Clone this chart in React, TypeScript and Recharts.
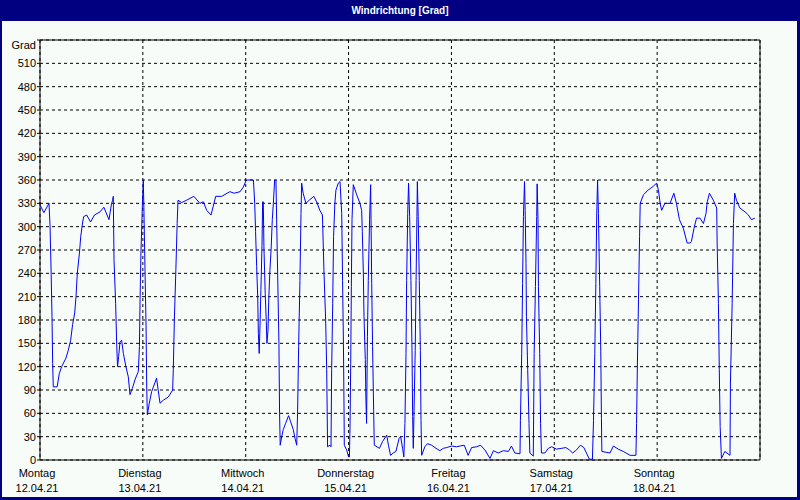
import { CartesianGrid, Line, LineChart, ReferenceLine, XAxis, YAxis } from 'recharts'

const navy = '#000080'
const blue = '#0000ff'
const font = '"Liberation Sans", Arial, sans-serif'

const dayNames = ['Montag', 'Dienstag', 'Mittwoch', 'Donnerstag', 'Freitag', 'Samstag', 'Sonntag']
const dayDates = ['12.04.21', '13.04.21', '14.04.21', '15.04.21', '16.04.21', '17.04.21', '18.04.21']
const hourTicks = [0, 24, 48, 72, 96, 120, 144, 168]
const gradTicks = [0, 30, 60, 90, 120, 150, 180, 210, 240, 270, 300, 330, 360, 390, 420, 450, 480, 510, 540]
const compassTicks = [0, 45, 90, 135, 180, 225, 270, 315, 360, 405, 450, 495, 540]
const compassNames = ['N', 'NE', 'E', 'SE', 'S', 'SW', 'W', 'NW', 'N', 'NE', 'E', 'SE', 'S']

// [hours since Monday 00:00, degrees]
const montag = [
  [0, 328], [0.9, 318], [2.1, 330], [2.35, 300], [2.6, 240], [2.8, 184], [2.95, 124], [3.1, 94], [4.0, 94],
  [4.5, 111], [5.05, 120], [6.05, 131], [6.6, 141], [7.15, 154], [7.6, 174], [8.1, 189], [8.4, 210], [8.7, 240],
  [9.2, 266], [9.5, 287], [9.95, 306], [10.2, 313], [10.9, 315], [11.8, 306], [12.7, 315], [14, 319], [14.9, 325],
  [16.1, 309], [16.7, 330], [16.95, 334], [17.1, 339], [17.27, 257], [17.65, 201], [17.9, 148], [18.1, 120],
  [18.35, 133], [18.67, 152], [19.05, 154], [19.45, 137], [20.05, 120], [20.6, 107], [21.0, 84], [21.55, 92],
  [22.15, 103], [22.95, 114], [23.2, 146], [23.35, 206], [23.55, 266], [23.9, 330],
]
const dienstag = [
  [24.1, 360], [24.25, 321], [24.5, 244], [24.75, 171], [24.9, 94], [25.05, 58], [25.5, 73], [26.05, 88],
  [27.2, 105], [28.0, 73], [28.8, 77], [29.95, 81], [30.95, 90], [31.1, 116], [31.35, 180], [31.7, 244],
  [32.0, 304], [32.2, 334], [33.05, 331], [34.2, 334], [35.9, 339], [37.3, 330], [38.1, 332], [38.9, 321],
  [39.9, 315], [41, 339], [42.4, 339], [44.3, 345], [45.3, 343], [46.7, 345], [47.45, 351],
]
const mittwoch = [
  [48.06, 359], [48.4, 360], [49.8, 360], [50.1, 330], [50.3, 294], [50.55, 249], [50.8, 210], [50.95, 163],
  [51.15, 137], [51.35, 176], [51.55, 219], [51.8, 276], [51.95, 332], [52.1, 332], [52.25, 274], [52.55, 214],
  [52.8, 178], [52.95, 150], [53.2, 167], [53.4, 210], [53.65, 244], [53.95, 274], [54.2, 309], [54.45, 330],
  [54.75, 360], [55.05, 360], [55.75, 150], [55.9, 60], [56.05, 19], [56.4, 30], [56.75, 39], [57.3, 47],
  [58.0, 57], [58.5, 49], [59.1, 39], [59.5, 28], [59.9, 19], [60.1, 60], [60.35, 146], [60.65, 231],
  [60.9, 317], [61.05, 356], [61.4, 343], [62.05, 330], [62.8, 334], [63.9, 339], [64.7, 330], [65.3, 321],
  [65.9, 315], [66.25, 244], [66.65, 180], [66.9, 116], [67.1, 17], [67.65, 19], [67.9, 17], [68.05, 116],
  [68.3, 201], [68.5, 287], [68.8, 330], [69.05, 347], [69.6, 356], [70.0, 358], [70.4, 317], [70.6, 231],
  [70.8, 150], [70.95, 60], [71.0, 19], [71.55, 13], [72.0, 4],
]
const donnerstag = [
  [72.2, 4], [72.35, 47], [72.5, 124], [72.65, 223], [72.8, 309], [73.1, 354], [73.9, 341], [74.65, 330],
  [75.05, 321], [75.2, 294], [75.45, 240], [75.6, 184], [75.9, 129], [76.05, 77], [76.2, 47], [76.4, 159],
  [76.6, 231], [76.9, 309], [77.15, 354], [77.4, 227], [77.6, 146], [77.85, 64], [78.0, 19], [79.2, 15],
  [79.95, 24], [80.9, 32], [81.3, 19], [81.8, 6], [82.4, 9], [83.05, 11], [83.8, 28], [84.15, 30], [84.6, 15],
  [84.9, 4], [85.15, 47], [85.4, 137], [85.55, 231], [85.8, 317], [86.0, 356], [86.25, 313], [86.55, 231],
  [86.8, 141], [86.95, 56], [87.1, 15], [87.25, 56], [87.55, 141], [87.75, 231], [87.95, 313], [88.05, 358],
  [88.25, 313], [88.5, 231], [88.75, 141], [88.9, 51], [89.05, 6], [89.8, 17], [90.4, 21], [91.4, 19],
  [92.4, 15], [93.3, 12], [94.1, 15], [94.9, 16],
]
const freitag = [
  [96.05, 18], [97.2, 17], [98.0, 18], [99.0, 19], [99.9, 6], [100.7, 16], [101.9, 17], [102.8, 19], [103.8, 13],
  [105.0, 2], [105.8, 12], [106.9, 9], [108.1, 12], [109.3, 11], [110.0, 18], [110.8, 9], [112.0, 8], [112.1, 51],
  [112.4, 137], [112.6, 227], [112.8, 313], [113.05, 358], [113.2, 321], [113.4, 253], [113.5, 184], [113.8, 116],
  [114.1, 47], [114.3, 9], [115.1, 5], [115.3, 137], [115.6, 223], [115.9, 313], [116.0, 355], [116.2, 309],
  [116.3, 223], [116.6, 137], [116.8, 47], [117.0, 9], [117.8, 9], [118.6, 15], [119.4, 17],
]
const samstag = [
  [120.5, 14], [121.7, 15], [122.7, 16], [123.5, 13], [124.3, 9], [125.2, 13], [126.1, 19], [126.9, 16],
  [127.5, 9], [128.2, 1], [128.9, 1], [129.15, 51], [129.45, 137], [129.7, 227], [129.9, 315], [130.1, 360],
  [130.3, 317], [130.6, 223], [130.85, 139], [131.0, 53], [131.1, 11], [133.0, 9], [133.8, 18], [134.9, 14],
  [136.1, 11], [137.7, 6], [139.05, 6], [139.2, 47], [139.4, 126], [139.65, 206], [139.9, 287], [140.05, 330],
  [140.8, 341], [141.9, 347], [143.1, 352], [143.9, 356],
]
const sonntag = [
  [144.3, 347], [144.7, 330], [145.05, 321], [145.8, 330], [147.0, 330], [147.9, 343], [148.5, 330], [149.2, 309],
  [150.1, 298], [151.0, 279], [151.7, 279], [152.0, 281], [152.6, 298], [153.2, 311], [154.0, 311], [154.8, 304],
  [155.4, 317], [155.7, 332], [156.2, 343], [157.1, 334], [157.9, 324], [158.0, 279], [158.3, 201], [158.5, 116],
  [158.7, 43], [159.0, 2], [159.8, 11], [161.0, 6], [161.1, 99], [161.5, 201], [161.8, 304], [162.1, 343],
  [162.5, 334], [163.3, 324], [164.5, 319], [165.3, 315], [166.0, 309], [166.8, 311],
]

const data = [...montag, ...dienstag, ...mittwoch, ...donnerstag, ...freitag, ...samstag, ...sonntag].map(
  ([h, deg]) => ({ h, deg })
)

function DayTick(props: any) {
  const { x, payload } = props
  const i = hourTicks.indexOf(payload.value)
  if (i < 0 || i >= dayNames.length) return null
  // axis sits at y=460 in the 500px frame
  return (
    <text x={x - 3} y={460} textAnchor="middle" fontSize={11} fontFamily={font} fill="#000">
      <tspan x={x - 3} dy={17}>{dayNames[i]}</tspan>
      <tspan x={x - 3} dy={15}>{dayDates[i]}</tspan>
    </text>
  )
}

function GradTick(props: any) {
  const { x, y, payload } = props
  const label = payload.value === 540 ? 'Grad' : String(payload.value)
  return (
    <text x={x} y={payload.value === 540 ? y + 5 : y} dy={4} textAnchor="end" fontSize={11} fontFamily={font} fill="#000">
      {label}
    </text>
  )
}

export default function App() {
  return (
    <div style={{ position: 'absolute', left: 0, top: 0, width: 800, height: 500, background: navy }}>
      <div
        style={{
          position: 'absolute',
          left: 0,
          top: 0,
          width: 800,
          height: 21,
          color: '#fff',
          fontFamily: font,
          fontWeight: 'bold',
          fontSize: 10,
          lineHeight: '21px',
          textAlign: 'center',
        }}
      >
        Windrichtung [Grad]
      </div>
      <div style={{ position: 'absolute', left: 2, top: 21, width: 795, height: 476, background: '#f8fcf8' }} />
      <div style={{ position: 'absolute', left: 0, top: 0 }}>
        <LineChart width={800} height={500} data={data} margin={{ top: 40, right: 0, bottom: 0, left: 0 }}>
          <CartesianGrid stroke="#000" strokeDasharray="3 3" yAxisId="left" />
          <XAxis
            dataKey="h"
            type="number"
            domain={[0, 168]}
            ticks={hourTicks}
            height={40}
            axisLine={{ stroke: '#000' }}
            tickLine={false}
            tick={<DayTick />}
            interval={0}
          />
          <YAxis
            yAxisId="left"
            type="number"
            domain={[0, 540]}
            ticks={gradTicks}
            width={40}
            interval={0}
            axisLine={{ stroke: '#000' }}
            tickLine={{ stroke: '#000' }}
            tickSize={3}
            tickMargin={1}
            tick={<GradTick />}
          />
          <YAxis
            yAxisId="right"
            orientation="right"
            type="number"
            domain={[0, 540]}
            ticks={compassTicks}
            width={40}
            interval={0}
            axisLine={{ stroke: '#000' }}
            tickLine={{ stroke: '#000' }}
            tickSize={3}
            tickMargin={1}
            tick={{ fontSize: 11, fontFamily: font, fill: '#000' }}
            tickFormatter={(v: number) => compassNames[compassTicks.indexOf(v)]}
          />
          <ReferenceLine y={540} yAxisId="left" stroke="#000" />
          <Line
            yAxisId="left"
            dataKey="deg"
            type="linear"
            stroke={blue}
            strokeWidth={1}
            dot={false}
            isAnimationActive={false}
          />
        </LineChart>
      </div>
    </div>
  )
}
